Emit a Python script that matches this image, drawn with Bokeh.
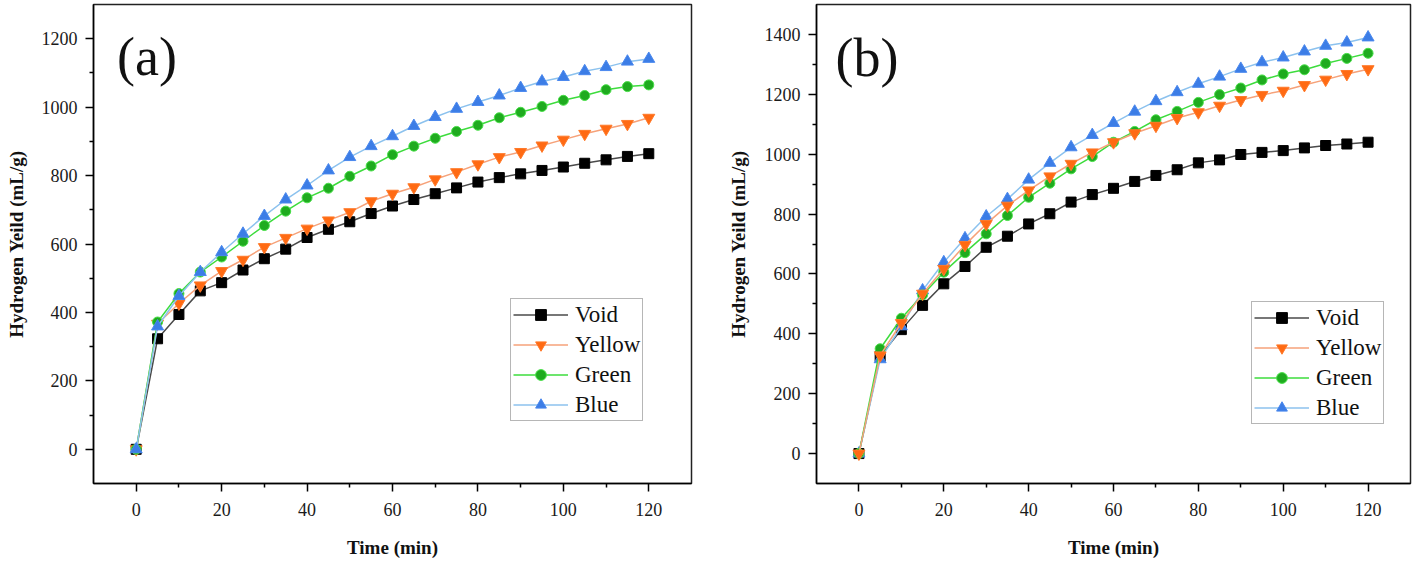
from bokeh.plotting import figure
from bokeh.models import FixedTicker, Label, Legend, LegendItem, Range1d
from bokeh.layouts import row
from bokeh.embed import file_html
from bokeh.resources import INLINE

time_min = [0, 5, 10, 15, 20, 25, 30, 35, 40, 45, 50, 55, 60, 65, 70, 75, 80, 85, 90, 95, 100, 105, 110, 115, 120]

# Panel (a)
void_a = [0, 323, 394, 463, 487, 524, 557, 585, 619, 643, 665, 689, 711, 730, 747, 764, 781, 794, 805, 815, 825, 836, 846, 856, 864]
yellow_a = [0, 367, 426, 479, 521, 554, 591, 618, 645, 669, 693, 725, 747, 766, 789, 810, 833, 854, 869, 888, 905, 922, 937, 951, 969]
green_a = [0, 372, 455, 518, 562, 608, 654, 696, 735, 763, 798, 828, 861, 886, 909, 929, 947, 969, 985, 1002, 1020, 1034, 1051, 1060, 1065]
blue_a = [0, 359, 448, 518, 576, 630, 682, 730, 771, 815, 854, 886, 915, 945, 971, 995, 1015, 1034, 1056, 1075, 1088, 1105, 1117, 1133, 1141]

# Panel (b)
void_b = [0, 325, 414, 495, 567, 625, 689, 726, 767, 801, 840, 865, 886, 909, 929, 948, 971, 981, 999, 1006, 1012, 1021, 1029, 1034, 1040]
yellow_b = [0, 328, 436, 534, 617, 697, 767, 828, 879, 926, 968, 1006, 1040, 1070, 1095, 1121, 1140, 1162, 1181, 1198, 1212, 1231, 1249, 1268, 1284]
green_b = [0, 350, 452, 530, 606, 671, 734, 795, 856, 903, 951, 992, 1040, 1076, 1115, 1143, 1173, 1199, 1221, 1248, 1268, 1282, 1303, 1320, 1337]
blue_b = [0, 315, 425, 545, 639, 719, 792, 850, 915, 971, 1023, 1064, 1104, 1142, 1177, 1207, 1235, 1259, 1285, 1307, 1323, 1343, 1362, 1373, 1390]

series_names = ["Void", "Yellow", "Green", "Blue"]
x_major = [0, 20, 40, 60, 80, 100, 120]
x_minor = [10, 30, 50, 70, 90, 110]

FONT = "Liberation Serif"

STYLE = {
    "Void": dict(marker="square", size=10, fill="#000000", edge="#000000", line="#4a4a4a"),
    "Yellow": dict(marker="inverted_triangle", size=12, fill="#ff6a13", edge="#ff7a2a", line="#f6a27a"),
    "Green": dict(marker="circle", size=10, fill="#1fab1f", edge="#49e049", line="#3ddc3d"),
    "Blue": dict(marker="triangle", size=12, fill="#3c7de6", edge="#4a88ee", line="#8cc2ee"),
}


def make_panel(data, order, ymax, y_major, y_minor, tag, tag_xy, width, left, right, legend_xy, ylabel_standoff):
    p = figure(width=width, height=560, x_range=Range1d(-10, 130), y_range=Range1d(-100, ymax),
               output_backend="svg", toolbar_location=None,
               min_border_left=left, min_border_right=right, min_border_top=4, min_border_bottom=77)
    p.xgrid.visible = False
    p.ygrid.visible = False
    p.outline_line_color = "#222222"
    p.outline_line_width = 1.5
    p.background_fill_color = "white"
    p.border_fill_color = "white"

    p.xaxis.ticker = FixedTicker(ticks=x_major, minor_ticks=x_minor)
    p.yaxis.ticker = FixedTicker(ticks=y_major, minor_ticks=y_minor)
    for ax in (p.xaxis[0], p.yaxis[0]):
        ax.axis_line_width = 1.5
        ax.axis_line_color = "black"
        ax.major_tick_out = 8
        ax.major_tick_in = 0
        ax.minor_tick_out = 4
        ax.minor_tick_in = 0
        ax.major_tick_line_width = 1.5
        ax.minor_tick_line_width = 1.5
        ax.major_label_text_font = FONT
        ax.major_label_text_font_size = "18px"
        ax.major_label_text_color = "#1a1a1a"
        ax.axis_label_text_font = FONT
        ax.axis_label_text_font_style = "bold"
        ax.axis_label_text_font_size = "19px"
        ax.axis_label_text_color = "#111111"
    p.xaxis.axis_label = "Time (min)"
    p.yaxis.axis_label = "Hydrogen Yeild (mL/g)"
    p.xaxis.major_label_standoff = 11
    p.xaxis.axis_label_standoff = 18
    p.yaxis.major_label_standoff = 8
    p.yaxis.axis_label_standoff = ylabel_standoff

    items = {}
    for name in order:
        st = STYLE[name]
        l = p.line(time_min, data[name], line_color=st["line"], line_width=1.5)
        s = p.scatter(time_min, data[name], marker=st["marker"], size=st["size"],
                      fill_color=st["fill"], line_color=st["edge"], line_width=1)
        items[name] = LegendItem(label=name, renderers=[l, s])

    legend = Legend(items=[items[n] for n in series_names], location=legend_xy,
                    label_text_font=FONT, label_text_font_size="23px", label_text_color="#111111",
                    glyph_width=55, glyph_height=27, label_height=27, label_standoff=7,
                    spacing=3, padding=2, margin=0,
                    border_line_color="#6e6e6e", border_line_width=1.5,
                    background_fill_color="white", background_fill_alpha=1)
    p.add_layout(legend)

    p.add_layout(Label(x=tag_xy[0], y=tag_xy[1], text=tag, text_font=FONT, text_font_size="54px",
                       text_baseline="middle", text_align="left", text_color="#111111"))
    return p


data_a = {"Void": void_a, "Yellow": yellow_a, "Green": green_a, "Blue": blue_a}
data_b = {"Void": void_b, "Yellow": yellow_b, "Green": green_b, "Blue": blue_b}

pa = make_panel(data_a, ["Void", "Yellow", "Green", "Blue"], 1300,
                [0, 200, 400, 600, 800, 1000, 1200], [100, 300, 500, 700, 900, 1100],
                "(a)", (-4.5, 1147), 720, 93, 29, (417, 62), 12)
pb = make_panel(data_b, ["Void", "Blue", "Green", "Yellow"], 1500,
                [0, 200, 400, 600, 800, 1000, 1200, 1400], [100, 300, 500, 700, 900, 1100, 1300],
                "(b)", (-5.5, 1321), 692, 96, 2, (435, 59), 13)

layout = row(pa, pb)
open("out.html", "w").write(file_html(layout, INLINE))
